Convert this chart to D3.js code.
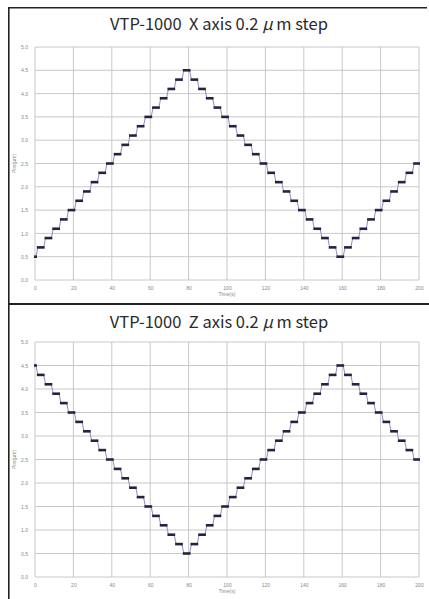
<!DOCTYPE html>
<html>
<head>
<meta charset="utf-8">
<script src="https://cdn.jsdelivr.net/npm/d3@7/dist/d3.min.js"></script>
<style>
  body { margin: 0; background: #fff; }
  text { font-family: "Liberation Sans", Arial, sans-serif; }
</style>
</head>
<body>
<svg width="429" height="599"></svg>
<script>
// tick labels
const timeTicks = [0, 20, 40, 60, 80, 100, 120, 140, 160, 180, 200];
const posTicks = [0, 0.5, 1, 1.5, 2, 2.5, 3, 3.5, 4, 4.5, 5];

// one level every 4 s (0.2 um steps)
const stepSec = 4;
const xLevels = [0.5, 0.7, 0.9, 1.1, 1.3, 1.5, 1.7, 1.9, 2.1, 2.3, 2.5, 2.7, 2.9, 3.1, 3.3, 3.5, 3.7, 3.9, 4.1, 4.3, 4.5,
  4.3, 4.1, 3.9, 3.7, 3.5, 3.3, 3.1, 2.9, 2.7, 2.5, 2.3, 2.1, 1.9, 1.7, 1.5, 1.3, 1.1, 0.9, 0.7, 0.5,
  0.7, 0.9, 1.1, 1.3, 1.5, 1.7, 1.9, 2.1, 2.3, 2.5];
const zLevels = [4.5, 4.3, 4.1, 3.9, 3.7, 3.5, 3.3, 3.1, 2.9, 2.7, 2.5, 2.3, 2.1, 1.9, 1.7, 1.5, 1.3, 1.1, 0.9, 0.7, 0.5,
  0.7, 0.9, 1.1, 1.3, 1.5, 1.7, 1.9, 2.1, 2.3, 2.5, 2.7, 2.9, 3.1, 3.3, 3.5, 3.7, 3.9, 4.1, 4.3, 4.5,
  4.3, 4.1, 3.9, 3.7, 3.5, 3.3, 3.1, 2.9, 2.7, 2.5];

const svg = d3.select("svg");

// frame: left + top edges, and the divider between the two panels
svg.append("path")
  .attr("d", "M8.8,599V7.8H427")
  .attr("fill", "none").attr("stroke", "#222").attr("stroke-width", 1.6);
svg.append("line")
  .attr("x1", 8).attr("x2", 429).attr("y1", 304).attr("y2", 304)
  .attr("stroke", "#222").attr("stroke-width", 2);

function drawPanel(axisName, levels, top, bottom, titleY) {
  const g = svg.append("g");

  const x = d3.scaleLinear().domain([0, 200]).range([35, 419]);
  const y = d3.scaleLinear().domain([0, 5]).range([bottom, top]);

  const t = g.append("text")
    .attr("x", 219).attr("y", titleY)
    .attr("text-anchor", "middle")
    .attr("font-size", 16.5)
    .attr("fill", "#2a2a2a")
    .style("font-family", '"Noto Sans CJK JP", "DejaVu Sans", sans-serif')
    .attr("xml:space", "preserve");
  t.append("tspan").text("VTP-1000  " + axisName + " axis 0.2 ");
  t.append("tspan").attr("font-style", "italic").text("μ");
  t.append("tspan").text(" m step");

  // grid
  g.append("g").selectAll("line").data(posTicks).join("line")
    .attr("x1", x(0)).attr("x2", x(200))
    .attr("y1", d => y(d)).attr("y2", d => y(d))
    .attr("stroke", "#c8c8c8").attr("stroke-width", 1);
  g.append("g").selectAll("line").data(timeTicks).join("line")
    .attr("x1", d => x(d)).attr("x2", d => x(d))
    .attr("y1", y(0)).attr("y2", y(5))
    .attr("stroke", "#c8c8c8").attr("stroke-width", 1);

  // axes (labels only)
  const yAxis = g.append("g")
    .attr("transform", `translate(${x(0) - 4},0)`)
    .call(d3.axisLeft(y).tickValues(posTicks).tickFormat(d3.format(".1f")).tickSize(0));
  const xAxis = g.append("g")
    .attr("transform", `translate(0,${y(0) + 3})`)
    .call(d3.axisBottom(x).tickValues(timeTicks).tickSize(0));
  [xAxis, yAxis].forEach(a => {
    a.select(".domain").remove();
    a.selectAll("text").attr("font-size", 5).attr("fill", "#888")
      .style("font-family", '"Liberation Sans", Arial, sans-serif');
  });

  g.append("text")
    .attr("x", x(100)).attr("y", y(0) + 16)
    .attr("text-anchor", "middle")
    .attr("font-size", 5).attr("fill", "#888")
    .text("Time(s)");
  g.append("text")
    .attr("transform", `translate(16,${(top + bottom) / 2}) rotate(-90)`)
    .attr("text-anchor", "middle")
    .attr("font-size", 5).attr("fill", "#888")
    .text("Pos(μm)");

  // each level held about 3 s, then moves to the next
  const segs = levels.map((v, i) => {
    const t0 = Math.max(0, i * stepSec - 2.5);
    const t1 = Math.min(200, i * stepSec + 0.5);
    return [[t0, v], [t1, v]];
  });

  const line = d3.line().x(d => x(d[0])).y(d => y(d[1]));

  g.append("path")
    .datum(segs.flat())
    .attr("d", line)
    .attr("fill", "none")
    .attr("stroke", "#8d8dc8")
    .attr("stroke-width", 1);

  g.append("g").selectAll("path").data(segs).join("path")
    .attr("d", d => {
      // pad a bit so even the first (dot) level shows up
      const a = x(d[0][0]) - 1, b = x(d[1][0]) + 1;
      return `M${a},${y(d[0][1])}H${b}`;
    })
    .attr("fill", "none")
    .attr("stroke", "#23233f")
    .attr("stroke-width", 2.6);
}

drawPanel("X", xLevels, 47, 280, 30);
drawPanel("Z", zLevels, 342, 577, 328);
</script>
</body>
</html>
